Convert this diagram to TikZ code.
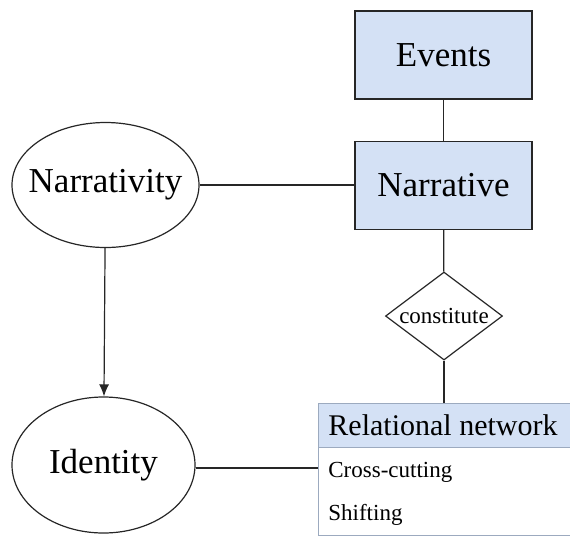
\documentclass[tikz,border=0pt]{standalone}
\usepackage{fontspec}
\setmainfont{Liberation Serif}
\usetikzlibrary{shapes.geometric,arrows.meta}
\definecolor{boxblue}{HTML}{D4E1F5}
\definecolor{tableline}{HTML}{9CAABF}
\begin{document}
\begin{tikzpicture}
        [
            x=0.5pt, y=-0.5pt,
            bigfont/.style={font=\rmfamily\fontsize{17.5}{20}\selectfont},
            smallfont/.style={font=\rmfamily\fontsize{11.5}{13}\selectfont},
            entity/.style={rectangle, draw=black!85, fill=boxblue, line width=0.6pt, minimum width=88.5pt, minimum height=44pt, bigfont},
            attr/.style={ellipse, draw=black!85, line width=0.6pt, inner sep=0pt},
            relation/.style={diamond, draw=black!85, line width=0.6pt, inner sep=0pt, aspect=1.33, minimum width=58.5pt, minimum height=44pt, smallfont},
            link/.style={line width=0.6pt, draw=black!85}
        ]
        \useasboundingbox (0,0) rectangle (570,538);
        % Events and Narrative
        \node[entity] (events) at (443.5,55) {Events};
        \node[entity] (narrative) at (443.5,185.5) {Narrative};
        \draw[link] (events) -- (narrative);
        % constitute
        \node[relation] (constitute) at (444,316) {constitute};
        \draw[link] (narrative) -- (constitute);
        % Relational network
        \node[rectangle, draw=tableline, fill=boxblue, line width=0.6pt, anchor=north west, minimum width=127pt, minimum height=22pt, inner sep=0pt] (header) at (318,403) {};
        \node[font=\rmfamily\fontsize{15}{18}\selectfont] (headertext) at (443,425) {Relational network};
        \node[rectangle, draw=tableline, line width=0.6pt, anchor=north west, minimum width=127pt, minimum height=44pt, inner sep=0pt] (body) at (318,447) {};
        \node[anchor=west, inner sep=0pt, smallfont] (cross) at (328,472) {Cross-cutting};
        \node[anchor=west, inner sep=0pt, smallfont] (shift) at (328,515) {Shifting};
        \draw[link] (constitute) -- (constitute |- header.north);
        % Narrativity
        \node[attr, minimum width=93.5pt, minimum height=62.5pt, label={[bigfont]center:Narrativity}] (narrativity) at (105.5,185) {};
        \draw[link] (narrativity.east) -- (narrativity.east -| narrative.west);
        % Identity
        \node[attr, minimum width=91.5pt, minimum height=68pt, label={[bigfont]center:Identity}] (identity) at (103.5,465) {};
        \draw[link, -{Latex[length=6pt, width=5pt]}] (narrativity) -- (identity);
        \coordinate (identityend) at ([yshift=-1.5pt]identity.east);
        \draw[link] (identityend) -- (identityend -| body.west);
    \end{tikzpicture}
\end{document}
